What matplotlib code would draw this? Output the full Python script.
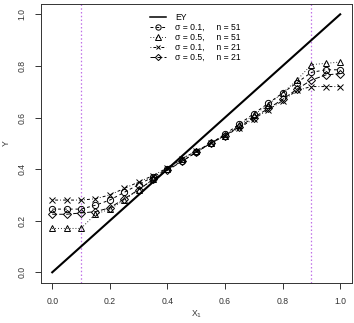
import matplotlib
matplotlib.use("Agg")
import matplotlib.pyplot as plt
from matplotlib.lines import Line2D

plt.rcParams['font.family'] = ['Liberation Sans', 'DejaVu Sans']

x = [0.00, 0.05, 0.10, 0.15, 0.20, 0.25, 0.30, 0.35, 0.40, 0.45, 0.50,
     0.55, 0.60, 0.65, 0.70, 0.75, 0.80, 0.85, 0.90, 0.95, 1.00]
ey_x = [0.0, 1.0]
ey_y = [0.0, 1.0]

s01_n51 = [0.245, 0.245, 0.245, 0.26, 0.28, 0.31, 0.34, 0.37, 0.40, 0.43, 0.465,
           0.50, 0.535, 0.575, 0.615, 0.655, 0.695, 0.735, 0.775, 0.785, 0.785]
s05_n51 = [0.17, 0.17, 0.17, 0.225, 0.245, 0.28, 0.32, 0.36, 0.40, 0.44, 0.47,
           0.50, 0.53, 0.57, 0.61, 0.65, 0.695, 0.745, 0.805, 0.81, 0.815]
s01_n21 = [0.28, 0.28, 0.28, 0.285, 0.30, 0.325, 0.35, 0.375, 0.405, 0.44, 0.47,
           0.50, 0.53, 0.56, 0.595, 0.63, 0.665, 0.705, 0.72, 0.72, 0.72]
s05_n21 = [0.225, 0.225, 0.23, 0.235, 0.25, 0.285, 0.32, 0.36, 0.395, 0.43, 0.465,
           0.50, 0.53, 0.565, 0.60, 0.635, 0.67, 0.71, 0.745, 0.765, 0.77]
vlines = [0.1, 0.9]

labels = ["EY", "σ = 0.1,     n = 51", "σ = 0.5,     n = 51",
          "σ = 0.1,     n = 21", "σ = 0.5,     n = 21"]

fig = plt.figure(figsize=(3.54, 3.23), dpi=100)
ax = fig.add_axes([0.115, 0.125, 0.8785, 0.8626])

fs = 6.2
axcol = '#333333'

for v in vlines:
    ax.axvline(v, color='#c070e8', linestyle=(0, (1.2, 1.8)), linewidth=0.9)

ax.plot(ey_x, ey_y, color='black', linewidth=1.5)
ms = 4.5
l1, = ax.plot(x, s01_n51, color='black', lw=0.7, ls=(0, (3, 3)), marker='o', ms=ms, mfc='none', mew=0.7)
l2, = ax.plot(x, s05_n51, color='black', lw=0.7, ls=(0, (0.8, 2.2)), marker='^', ms=ms, mfc='none', mew=0.7)
l3, = ax.plot(x, s01_n21, color='black', lw=0.7, ls=(0, (0.8, 2.2, 3, 2.2)), marker='x', ms=ms - 0.8, mfc='none', mew=0.7)
l4, = ax.plot(x, s05_n21, color='black', lw=0.7, ls=(0, (5, 2.2)), marker='D', ms=ms - 0.8, mfc='none', mew=0.7)

h0 = Line2D([], [], color='black', lw=1.1)
leg = ax.legend([h0, l1, l2, l3, l4], labels, loc='upper left',
                bbox_to_anchor=(144 / 354, 1 - 7 / 323), bbox_transform=fig.transFigure,
                frameon=False, fontsize=fs, handlelength=1.9, handletextpad=1.0,
                labelspacing=0.12, borderpad=0.2, numpoints=1, markerscale=0.85)

ax.set_xlim(-0.04, 1.04)
ax.set_ylim(-0.04, 1.04)
ax.set_xticks([0.0, 0.2, 0.4, 0.6, 0.8, 1.0])
ax.set_yticks([0.0, 0.2, 0.4, 0.6, 0.8, 1.0])
ax.set_xticklabels(["0.0", "0.2", "0.4", "0.6", "0.8", "1.0"])
ax.set_yticklabels(["0.0", "0.2", "0.4", "0.6", "0.8", "1.0"], rotation=90, va='center')
ax.tick_params(direction='out', length=4, width=0.7, colors=axcol, labelsize=fs, pad=6)
for s in ax.spines.values():
    s.set_color(axcol)
    s.set_linewidth(0.7)

ax.set_xlabel("X$_1$", fontsize=fs, color=axcol, labelpad=2)
ax.set_ylabel("Y", fontsize=fs, color=axcol, labelpad=5)

fig.savefig("out.png", dpi=100)
